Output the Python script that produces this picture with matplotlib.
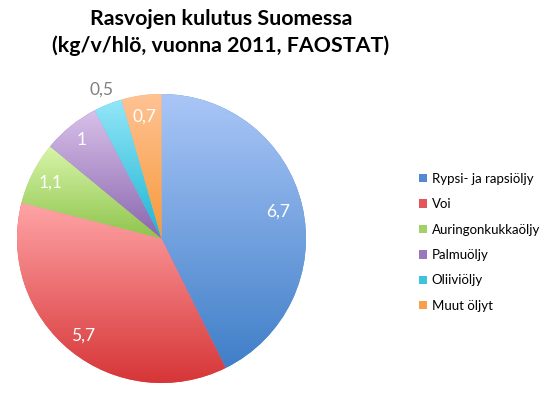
import numpy as np
import matplotlib
matplotlib.use("Agg")
import matplotlib.pyplot as plt
from matplotlib.colors import LinearSegmentedColormap
from matplotlib.patches import Patch

plt.rcParams['font.family'] = ['Lato', 'DejaVu Sans']

# data
labels = ['Rypsi- ja rapsiöljy', 'Voi', 'Auringonkukkaöljy', 'Palmuöljy', 'Oliiviöljy', 'Muut öljyt']
values = [6.7, 5.7, 1.1, 1.0, 0.5, 0.7]
value_text = ['6,7', '5,7', '1,1', '1', '0,5', '0,7']
# gradient colours per slice (top -> bottom)
top_cols = ['#aac6f7', '#ffa4a6', '#d8f6ab', '#d9c1ea', '#94e6f8', '#ffc395']
bot_cols = ['#3f7fc8', '#d63436', '#8fc44d', '#8a67ae', '#1cb6d3', '#f7993a']
legend_cols = ['#5289d2', '#e2565a', '#a3d168', '#9878b8', '#3cc3dd', '#f9a04c']
label_r = [0.83, 0.865, 0.86, 0.875, 1.11, 0.85]
label_col = ['white', 'white', 'white', 'white', '#7f7f7f', 'white']

W, H = 544, 395
fig = plt.figure(figsize=(W / 100, H / 100), dpi=100)

cx, cy, R = 161.5, 238.5, 144.5
ax = fig.add_axes([(cx - R) / W, (H - cy - R) / H, 2 * R / W, 2 * R / H])
wedges, _ = ax.pie(values, startangle=90, counterclock=False, radius=1,
                   colors=legend_cols, wedgeprops=dict(linewidth=0))

for i, w in enumerate(wedges):
    verts = w.get_patch_transform().transform(w.get_path().vertices)
    x0, x1 = verts[:, 0].min(), verts[:, 0].max()
    y0, y1 = verts[:, 1].min(), verts[:, 1].max()
    cmap = LinearSegmentedColormap.from_list('g%d' % i, [bot_cols[i], top_cols[i]])
    grad = np.linspace(0, 1, 256).reshape(-1, 1)
    im = ax.imshow(grad, cmap=cmap, extent=(x0, x1, y0, y1), origin='lower',
                   aspect='auto', zorder=2, interpolation='bilinear')
    im.set_clip_path(w)

    mid = np.deg2rad((w.theta1 + w.theta2) / 2)
    ax.text(label_r[i] * np.cos(mid), label_r[i] * np.sin(mid), value_text[i],
            ha='center', va='center', color=label_col[i], fontsize=12.5, zorder=3)

ax.set_xlim(-1, 1)
ax.set_ylim(-1, 1)
ax.set_aspect('auto')
ax.axis('off')

fig.text(221 / W, 1 - 19 / H, 'Rasvojen kulutus Suomessa', ha='center', va='center',
         fontsize=15.4, fontweight='bold')
fig.text(221 / W, 1 - 46 / H, '(kg/v/hlö, vuonna 2011, FAOSTAT)', ha='center', va='center',
         fontsize=15.4, fontweight='bold')

handles = [Patch(facecolor=c, edgecolor='none') for c in legend_cols]
fig.legend(handles, labels, loc='upper left', bbox_to_anchor=(412 / W, 1 - 166 / H),
           frameon=False, fontsize=9.5, handlelength=0.6, handleheight=0.6,
           handletextpad=0.4, labelspacing=1.02, borderpad=0)

fig.savefig('out.png', dpi=100)
